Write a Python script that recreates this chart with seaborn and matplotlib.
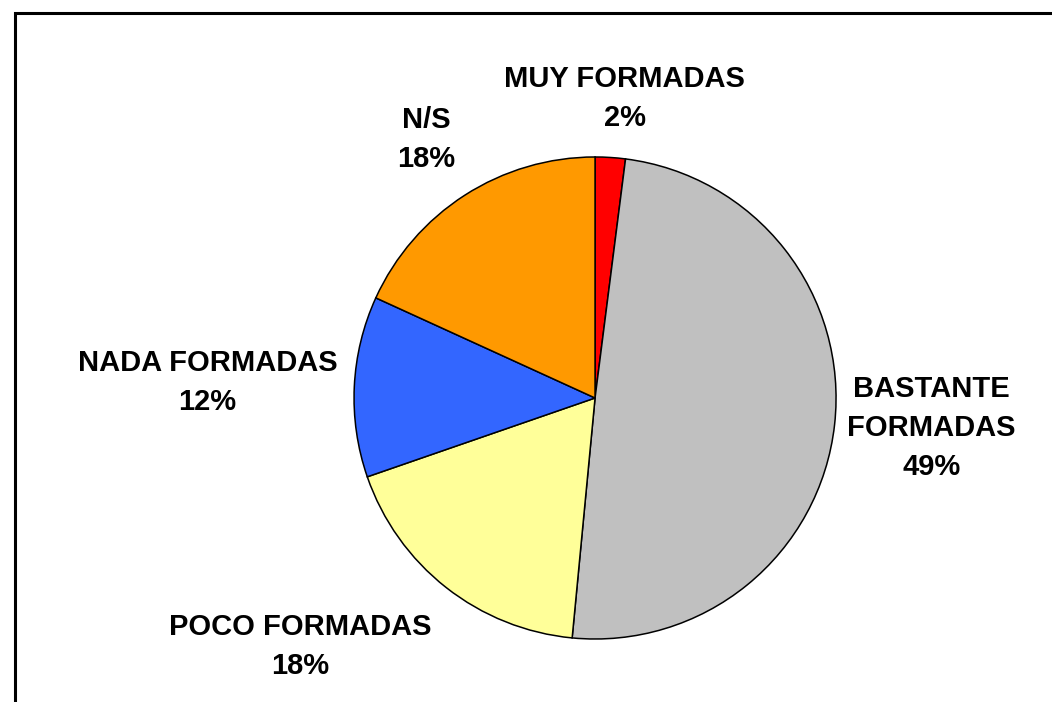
import matplotlib
matplotlib.use("Agg")
import matplotlib.pyplot as plt
from matplotlib.patches import Rectangle
import numpy as np
import seaborn as sns

sns.set_theme(style="white")
plt.rcParams["font.family"] = ["Liberation Sans", "DejaVu Sans"]

# data
categories = ["MUY FORMADAS", "BASTANTE\nFORMADAS", "POCO FORMADAS", "NADA FORMADAS", "N/S"]
values = [2, 49, 18, 12, 18]
colors = ["#FF0000", "#C0C0C0", "#FFFF99", "#3366FF", "#FF9900"]

# label placement: (distance from centre in radii, angle nudge in degrees)
label_pos = [(1.25, -2), (1.40, 1.3), (1.60, -11.6), (1.61, 0.5), (1.28, 0.4)]

fig = plt.figure(figsize=(10.52, 7.02), dpi=100)
ax = fig.add_axes([0, 0, 1, 1])
wedges, _ = ax.pie(values, colors=colors, startangle=90, counterclock=False,
                   wedgeprops={"edgecolor": "black", "linewidth": 1.1})
ax.set_xlim(-2.469, 1.896)
ax.set_ylim(-1.261, 1.651)
ax.set_aspect("equal")
ax.axis("off")

total = sum(values)
for w, cat, v, (dist, nudge) in zip(wedges, categories, values, label_pos):
    ang = np.deg2rad((w.theta1 + w.theta2) / 2 + nudge)
    ax.text(dist * np.cos(ang), dist * np.sin(ang), f"{cat}\n{round(v / total * 100)}%",
            ha="center", va="center", fontsize=21, fontweight="bold",
            linespacing=1.5, color="black")

# chart border (only top and left edges fall inside the picture)
fig.patches.append(Rectangle((15 / 1052, -0.2), 1.5, 1.2 - 12.5 / 702,
                             transform=fig.transFigure, fill=False,
                             edgecolor="black", linewidth=2.2))

fig.savefig("out.png", dpi=100)
